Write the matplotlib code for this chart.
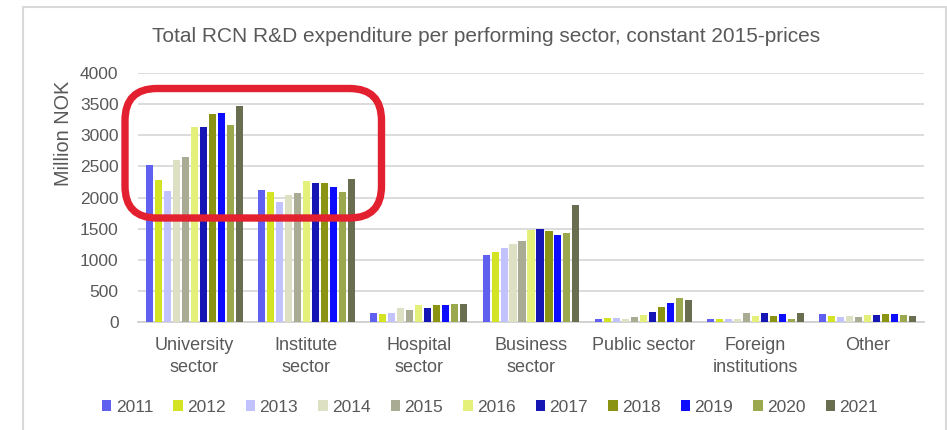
import matplotlib
matplotlib.use("Agg")
import matplotlib.pyplot as plt
import numpy as np
from matplotlib.patches import FancyBboxPatch, Rectangle, Patch
from matplotlib.transforms import IdentityTransform

plt.rcParams['font.family'] = ['Liberation Sans', 'DejaVu Sans']

categories = ["University\nsector", "Institute\nsector", "Hospital\nsector", "Business\nsector",
              "Public sector", "Foreign\ninstitutions", "Other"]
years = ["2011", "2012", "2013", "2014", "2015", "2016", "2017", "2018", "2019", "2020", "2021"]

university = [2520, 2280, 2110, 2600, 2660, 3140, 3135, 3340, 3365, 3170, 3480]
institute = [2115, 2090, 1930, 2035, 2080, 2270, 2235, 2235, 2175, 2095, 2300]
hospital = [135, 130, 145, 215, 190, 275, 220, 265, 270, 280, 280]
business = [1075, 1120, 1190, 1255, 1300, 1475, 1490, 1465, 1390, 1435, 1880]
public = [40, 55, 55, 45, 80, 115, 155, 230, 300, 385, 345]
foreign = [40, 50, 50, 50, 140, 90, 135, 85, 120, 40, 135]
other = [120, 85, 75, 90, 75, 100, 110, 120, 120, 100, 85]

colors = ["#5f5ff0", "#d4e424", "#c2c2ff", "#dde0c2", "#a9ac92", "#e4f07a",
          "#1616b4", "#8a9412", "#0c0cff", "#9ca84e", "#6a6e50"]

data = np.array([university, institute, hospital, business, public, foreign, other])

fig = plt.figure(figsize=(9.47, 4.30), dpi=100)
W, H = 947, 430
ax = fig.add_axes([138 / W, 1 - 321.7 / H, (924 - 138) / W, (321.7 - 73.3) / H])

x = np.arange(len(categories))
step = 0.08
bw = 0.063
n = len(years)
for i, yr in enumerate(years):
    ax.bar(x + (i - (n - 1) / 2) * step, data[:, i], width=bw, color=colors[i],
           label=yr, zorder=3, linewidth=0)

ax.set_xlim(-0.5, len(categories) - 0.5)
ax.set_ylim(0, 4000)
ax.set_yticks(np.arange(0, 4001, 500))
ax.grid(axis='y', color='#d9d9d9', linewidth=1.3, zorder=0)
for s in ['top', 'right', 'left']:
    ax.spines[s].set_visible(False)
ax.spines['bottom'].set_color('#d0d0d0')
ax.spines['bottom'].set_linewidth(1.3)
ax.tick_params(axis='both', length=0, labelsize=12.5, colors='#595959')
ax.tick_params(axis='y', pad=14)
ax.set_xticks(x)
ax.set_xticklabels(categories, linespacing=1.4, fontsize=13)
ax.tick_params(axis='x', pad=11)

fig.text(486 / W, 1 - 36 / H, "Total RCN R&D expenditure per performing sector, constant 2015-prices",
         ha='center', va='center', fontsize=15, color='#595959')
fig.text(63 / W, 1 - 133 / H, "Million NOK", rotation=90, ha='center', va='center',
         fontsize=14.3, color='#595959')

handles = [Patch(facecolor=c, edgecolor='none') for c in colors]
fig.legend(handles, years, loc='center', bbox_to_anchor=(490 / W, 1 - 407 / H), ncol=11,
           frameon=False, fontsize=12.5, handlelength=0.55, handleheight=0.55,
           handletextpad=0.25, columnspacing=1.15, labelcolor='#595959')

# outer frame
fig.patches.append(Rectangle((23 / W, -0.05), (946 - 23) / W, 1.05 - 7 / H,
                             transform=fig.transFigure, fill=False,
                             edgecolor='#d9d9d9', linewidth=1.5))

# red highlight (pixel coordinates, origin bottom-left)
fig.patches.append(FancyBboxPatch((125, H - 218), 381.5 - 125, 218 - 88.5,
                                  boxstyle="round,pad=0,rounding_size=32",
                                  transform=IdentityTransform(), fill=False,
                                  edgecolor='#e3202f', linewidth=5.3, zorder=10))

fig.savefig("out.png", dpi=100)
